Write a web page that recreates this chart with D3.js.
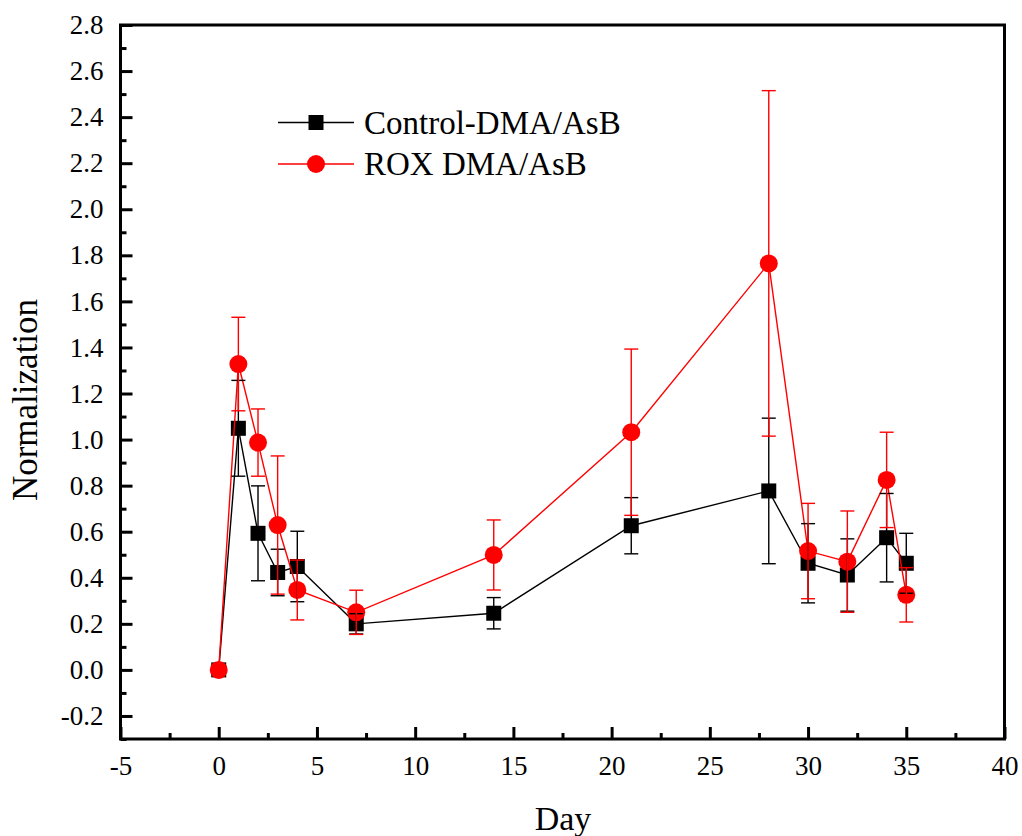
<!DOCTYPE html>
<html>
<head>
<meta charset="utf-8">
<script src="https://cdn.jsdelivr.net/npm/d3@7"></script>
<style>
  html, body { margin: 0; padding: 0; background: #fff; }
  svg { display: block; }
  svg text { font-family: "Liberation Serif", "Times New Roman", serif; fill: #000; }
</style>
</head>
<body>
<svg id="chart" width="1022" height="836"></svg>
<script>
// ---- data ----
const days = [0, 1, 2, 3, 4, 7, 14, 21, 28, 30, 32, 34, 35];
const controlValues = [0, 1.049, 0.593, 0.423, 0.449, 0.200, 0.246, 0.626, 0.777, 0.463, 0.412, 0.574, 0.463];
const controlErrors = [0, 0.208, 0.206, 0.101, 0.153, 0.044, 0.068, 0.122, 0.316, 0.172, 0.157, 0.192, 0.130];
const roxValues = [0, 1.328, 0.987, 0.629, 0.347, 0.250, 0.499, 1.032, 1.765, 0.516, 0.470, 0.825, 0.326];
const roxErrors = [0, 0.203, 0.146, 0.300, 0.130, 0.096, 0.152, 0.361, 0.750, 0.207, 0.220, 0.207, 0.118];
const seriesNames = ["Control-DMA/AsB", "ROX DMA/AsB"];
const xTicks = [-5, 0, 5, 10, 15, 20, 25, 30, 35, 40];
const yTicks = [-0.2, 0.0, 0.2, 0.4, 0.6, 0.8, 1.0, 1.2, 1.4, 1.6, 1.8, 2.0, 2.2, 2.4, 2.6, 2.8];
const xTitle = "Day";
const yTitle = "Normalization";

// ---- layout ----
const pLeft = 120.5, pRight = 1004.5, pTop = 25, pBottom = 739;
const FONT = "'Liberation Serif', 'Times New Roman', serif";
const svg = d3.select("#chart");
const x = d3.scaleLinear().domain([-5, 40]).range([pLeft, pRight]);
const y = d3.scaleLinear().domain([-0.3, 2.8]).range([pBottom, pTop]);

const series = [
  { name: seriesNames[0], values: controlValues, errors: controlErrors, color: "#000000", shape: "square" },
  { name: seriesNames[1], values: roxValues, errors: roxErrors, color: "#ff0000", shape: "circle" }
];

// frame
svg.append("rect").attr("x", pLeft).attr("y", pTop).attr("width", pRight - pLeft).attr("height", pBottom - pTop)
  .attr("fill", "none").attr("stroke", "#000").attr("stroke-width", 3);

// axes (inward ticks)
const xMinor = d3.range(-5, 40.01, 2.5).filter(v => Math.abs(v / 5 - Math.round(v / 5)) > 1e-6);
const yMinor = d3.range(-0.3, 2.801, 0.1).map(v => +v.toFixed(1)).filter(v => Math.abs(v * 5 - Math.round(v * 5)) > 1e-6);

const xAxis = d3.axisBottom(x).tickValues(xTicks).tickSizeInner(-12).tickSizeOuter(0).tickPadding(17);
const gx = svg.append("g").attr("transform", `translate(0,${pBottom})`).call(xAxis).attr("font-family", FONT);
gx.select(".domain").remove();
gx.selectAll(".tick line").attr("stroke", "#000").attr("stroke-width", 3);
gx.selectAll(".tick text").attr("font-size", 27).attr("fill", "#000")
  .text(d => d < 0 ? "-" + Math.abs(d) : d);
svg.append("g").attr("transform", `translate(0,${pBottom})`)
  .call(d3.axisBottom(x).tickValues(xMinor).tickSizeInner(-6).tickSizeOuter(0).tickFormat(""))
  .call(g => g.select(".domain").remove())
  .selectAll(".tick line").attr("stroke", "#000").attr("stroke-width", 3);

const yAxis = d3.axisLeft(y).tickValues(yTicks).tickSizeInner(-12).tickSizeOuter(0).tickPadding(17);
const gy = svg.append("g").attr("transform", `translate(${pLeft},0)`).call(yAxis).attr("font-family", FONT);
gy.select(".domain").remove();
gy.selectAll(".tick line").attr("stroke", "#000").attr("stroke-width", 3);
gy.selectAll(".tick text").attr("font-size", 27).attr("fill", "#000")
  .text(d => (d < 0 ? "-" : "") + Math.abs(d).toFixed(1));
svg.append("g").attr("transform", `translate(${pLeft},0)`)
  .call(d3.axisLeft(y).tickValues(yMinor).tickSizeInner(-6).tickSizeOuter(0).tickFormat(""))
  .call(g => g.select(".domain").remove())
  .selectAll(".tick line").attr("stroke", "#000").attr("stroke-width", 3);

// axis titles
svg.append("text").attr("x", 563).attr("y", 830).attr("text-anchor", "middle").attr("font-family", FONT).attr("font-size", 34).text(xTitle);
svg.append("text").attr("transform", "translate(37,400) rotate(-90)").attr("text-anchor", "middle").attr("font-family", FONT).attr("font-size", 35).text(yTitle);

// lines + markers
const line = d3.line().x(d => x(d[0])).y(d => y(d[1]));
function drawMarker(g, shape, cx, cy, color, s) {
  if (shape === "square") {
    g.append("rect").attr("x", cx - s / 2).attr("y", cy - s / 2).attr("width", s).attr("height", s).attr("fill", color);
  } else {
    g.append("circle").attr("cx", cx).attr("cy", cy).attr("r", s / 2).attr("fill", color);
  }
}
const plot = svg.append("g");
series.forEach(s => {
  const pts = days.map((d, i) => [d, s.values[i]]);
  plot.append("path").datum(pts).attr("d", line).attr("fill", "none").attr("stroke", s.color).attr("stroke-width", 1.4);
  pts.forEach(p => drawMarker(plot, s.shape, x(p[0]), y(p[1]), s.color, s.shape === "square" ? 15 : 18));
});
// error bars
series.forEach(s => {
  const g = plot.append("g").attr("stroke", s.color).attr("stroke-width", 1.4).attr("fill", "none");
  days.forEach((d, i) => {
    const e = s.errors[i];
    if (!e) return;
    const cx = x(d), y1 = y(s.values[i] + e), y0 = y(s.values[i] - e);
    g.append("line").attr("x1", cx).attr("x2", cx).attr("y1", y1).attr("y2", y0);
    g.append("line").attr("x1", cx - 7).attr("x2", cx + 7).attr("y1", y1).attr("y2", y1);
    g.append("line").attr("x1", cx - 7).attr("x2", cx + 7).attr("y1", y0).attr("y2", y0);
  });
});

// legend
const leg = svg.append("g");
series.forEach((s, i) => {
  const ly = 122.5 + i * 41.5;
  leg.append("line").attr("x1", 278).attr("x2", 354).attr("y1", ly).attr("y2", ly).attr("stroke", s.color).attr("stroke-width", 1.4);
  drawMarker(leg, s.shape, 316, ly, s.color, s.shape === "square" ? 15 : 18);
  leg.append("text").attr("x", 364).attr("y", ly + 11).attr("font-family", FONT).attr("font-size", 33).text(s.name);
});
</script>
</body>
</html>
